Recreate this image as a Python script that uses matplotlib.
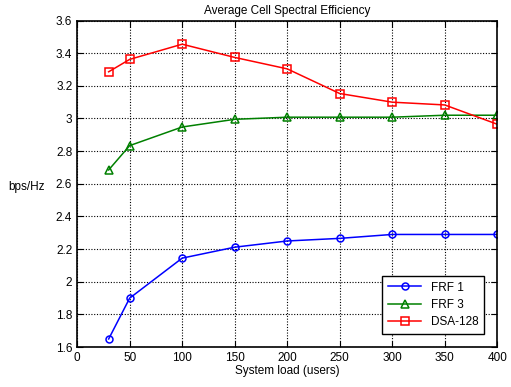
import matplotlib
matplotlib.use("Agg")
import matplotlib.pyplot as plt

plt.rcParams['font.family'] = ['Liberation Sans', 'DejaVu Sans']

# System load (users)
load = [30, 50, 100, 150, 200, 250, 300, 350, 400]

# Spectral efficiency (bps/Hz) per scheme
frf1 = [1.65, 1.90, 2.145, 2.212, 2.25, 2.266, 2.29, 2.29, 2.29]
frf3 = [2.685, 2.834, 2.948, 2.995, 3.008, 3.008, 3.008, 3.02, 3.02]
dsa128 = [3.286, 3.362, 3.455, 3.374, 3.304, 3.153, 3.10, 3.083, 2.965]

fig = plt.figure(figsize=(5.11, 3.87), dpi=100)
ax = fig.add_axes([0.151, 0.103, 0.822, 0.844])

ax.plot(load, frf1, color='blue', marker='o', mfc='none', ms=5, mew=1.1, lw=1.1, label='FRF 1')
ax.plot(load, frf3, color='green', marker='^', mfc='none', ms=5.5, mew=1.1, lw=1.1, label='FRF 3')
ax.plot(load, dsa128, color='red', marker='s', mfc='none', ms=5.5, mew=1.1, lw=1.1, label='DSA-128')

ax.set_xlim(0, 400)
ax.set_ylim(1.6, 3.6)
ax.set_xticks(range(0, 401, 50))
ax.set_yticks([1.6, 1.8, 2.0, 2.2, 2.4, 2.6, 2.8, 3.0, 3.2, 3.4, 3.6])
ax.set_yticklabels(['1.6', '1.8', '2', '2.2', '2.4', '2.6', '2.8', '3', '3.2', '3.4', '3.6'])
ax.grid(True, color='black', linestyle=(0, (1, 1.5)), linewidth=0.8)
ax.tick_params(direction='in', top=True, right=True, labelsize=8.5, length=4)
for s in ax.spines.values():
    s.set_linewidth(1.2)

ax.set_title('Average Cell Spectral Efficiency', fontsize=8.5, pad=5)
ax.set_xlabel('System load (users)', fontsize=8.5, labelpad=1)
ax.set_ylabel('bps/Hz', fontsize=8.5, rotation=0, ha='center', va='center')
ax.yaxis.set_label_coords(-0.12, 0.49)

leg = ax.legend(loc='lower right', fontsize=8.5, fancybox=False, framealpha=1,
                edgecolor='black', borderaxespad=1.1, handlelength=2.8,
                labelspacing=0.45, borderpad=0.5)
leg.get_frame().set_linewidth(1.0)

fig.savefig('out.png', dpi=100)
